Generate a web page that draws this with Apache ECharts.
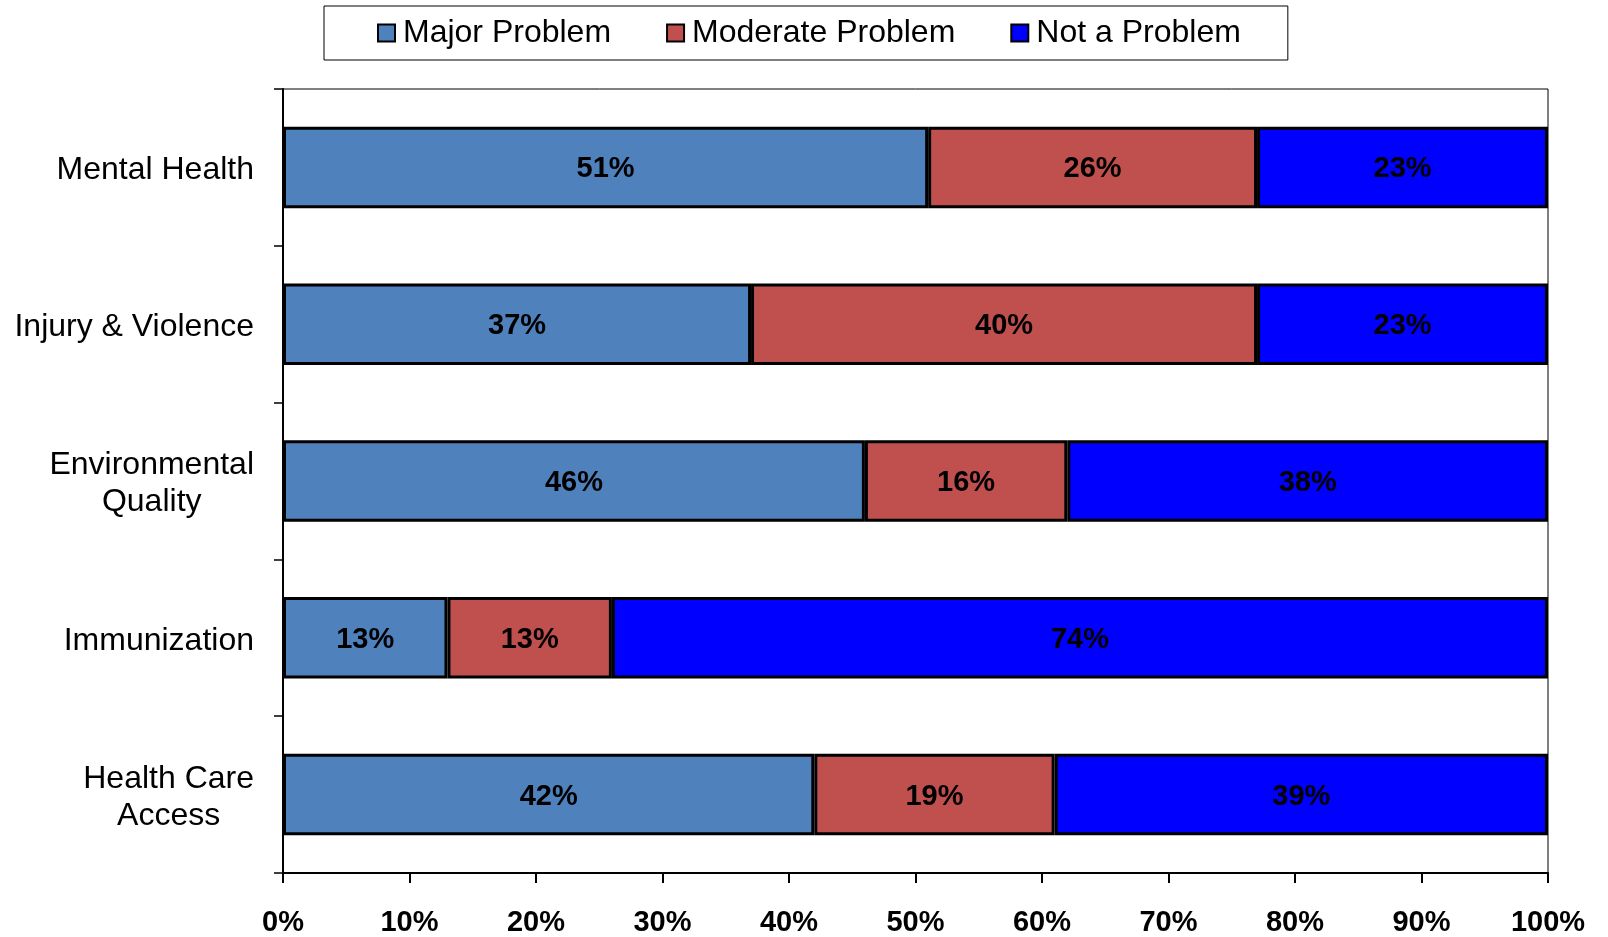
<!DOCTYPE html>
<html>
<head>
<meta charset="utf-8">
<script src="https://cdn.jsdelivr.net/npm/echarts@6/dist/echarts.min.js"></script>
<style>
html,body{margin:0;padding:0;background:#fff;}
#chart{width:1608px;height:937px;}
</style>
</head>
<body>
<div id="chart"></div>
<script>
const categories = ['Mental Health', 'Injury & Violence', 'Environmental\nQuality', 'Immunization', 'Health Care\nAccess'];
const seriesNames = ['Major Problem', 'Moderate Problem', 'Not a Problem'];
const majorProblem = [51, 37, 46, 13, 42];
const moderateProblem = [26, 40, 16, 13, 19];
const notAProblem = [23, 23, 38, 74, 39];
const xTicks = [0, 10, 20, 30, 40, 50, 60, 70, 80, 90, 100];

const colors = ['#4F81BD', '#C0504D', '#0000FF'];
const FONT = '"Liberation Sans", Arial, sans-serif';
const values = [majorProblem, moderateProblem, notAProblem];

const chart = echarts.init(document.getElementById('chart'));
chart.setOption({
  animation: false,
  backgroundColor: '#fff',
  textStyle: { fontFamily: FONT },
  legend: {
    top: 6,
    left: 324,
    padding: [11, 47, 11, 53],
    borderColor: '#000',
    borderWidth: 1,
    itemGap: 55,
    itemWidth: 17,
    itemHeight: 17,
    icon: 'rect',
    data: seriesNames,
    textStyle: { fontSize: 32, color: '#000', fontFamily: FONT, padding: [0, 0, 0, 3] },
    itemStyle: { borderColor: '#000', borderWidth: 2 }
  },
  grid: {
    left: 283, right: 60, top: 89, bottom: 58,
    show: true, borderColor: '#000', borderWidth: 1, backgroundColor: 'transparent'
  },
  xAxis: {
    type: 'value',
    min: xTicks[0], max: xTicks[xTicks.length - 1], interval: 10,
    axisLine: { show: true, lineStyle: { color: '#000', width: 2 } },
    axisTick: { show: true, length: 10, lineStyle: { color: '#000', width: 2 } },
    splitLine: { show: false },
    axisLabel: {
      margin: 35,
      fontSize: 29, fontWeight: 'bold', color: '#000', fontFamily: FONT,
      formatter: v => v + '%'
    }
  },
  yAxis: {
    type: 'category',
    inverse: true,
    data: categories,
    axisLine: { show: true, lineStyle: { color: '#000', width: 2 } },
    axisTick: { show: true, length: 9, lineStyle: { color: '#000', width: 1.5 } },
    axisLabel: {
      margin: 29,
      color: '#000',
      fontFamily: FONT,
      fontSize: 32,
      lineHeight: 37,
      padding: [6, 0, 0, 0],
      formatter: v => v.split('\n').map(s => '{c|' + s + '}').join('\n'),
      rich: { c: { align: 'center', fontSize: 32, lineHeight: 37, color: '#000', fontFamily: FONT } }
    }
  },
  series: seriesNames.map((name, i) => ({
    name: name,
    type: 'bar',
    stack: 'total',
    barWidth: '52%',
    data: values[i],
    itemStyle: { color: colors[i], borderColor: '#000', borderWidth: 3 },
    label: {
      show: true, position: 'inside',
      offset: [0, 2],
      fontSize: 29, fontWeight: 'bold', color: '#000', fontFamily: FONT,
      textBorderWidth: 0,
      formatter: p => p.value + '%'
    }
  }))
});
</script>
</body>
</html>
